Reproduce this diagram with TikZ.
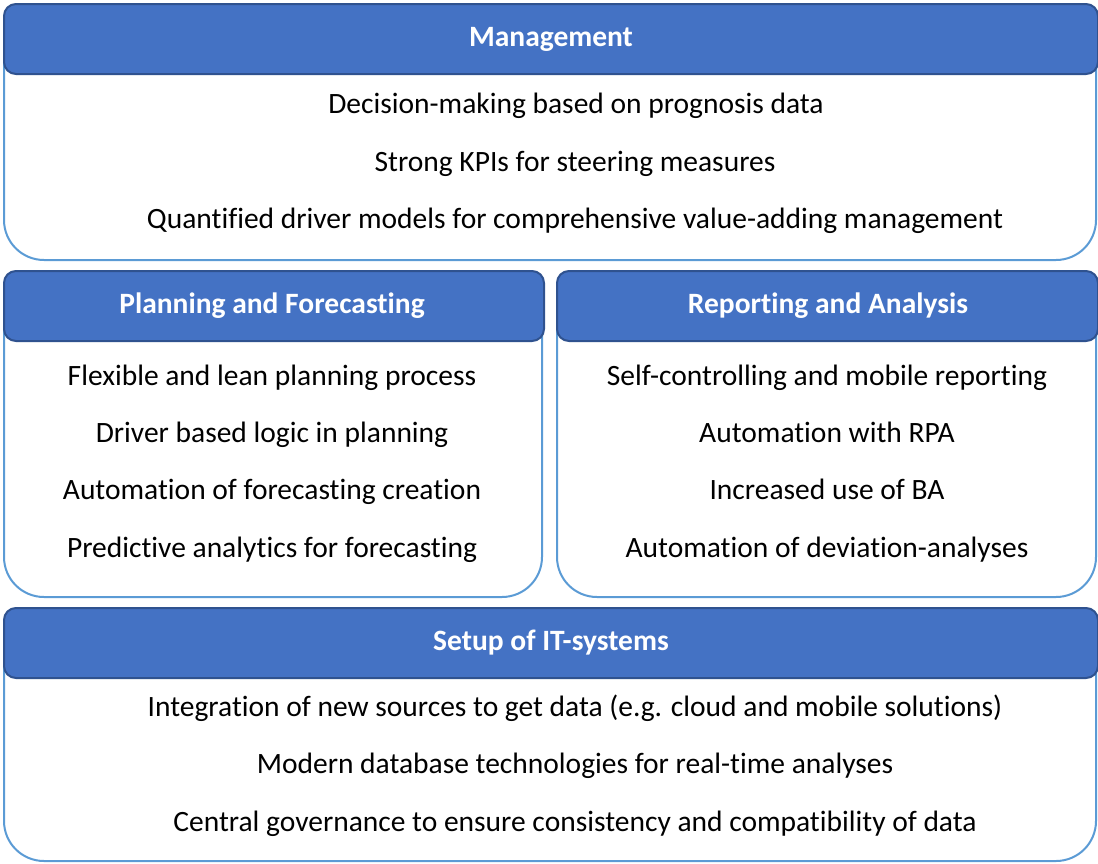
\documentclass[tikz,border=0pt]{standalone}
\usepackage{fontspec}
\setmainfont{Carlito}[Ligatures=NoCommon]
\definecolor{hdrfill}{HTML}{4472C4}
\definecolor{hdrline}{HTML}{2F528F}
\definecolor{bodyline}{HTML}{5B9BD5}
\begin{document}
\begin{tikzpicture}[x=1pt,y=-1pt,
  bodybox/.style={draw=bodyline,line width=2pt,rounded corners=40pt,fill=white},
  hdr/.style={draw=hdrline,line width=2pt,fill=hdrfill,rounded corners=12pt,
    anchor=north west,inner sep=0pt,minimum height=70pt},
  title/.style={anchor=base,inner sep=0pt,text=white,
    font=\fontsize{29.5}{34}\selectfont\bfseries},
  item/.style={anchor=base,inner sep=0pt,text=black,
    font=\fontsize{29.5}{34}\selectfont}]
\useasboundingbox (0,0) rectangle (1098,863);

% Management
\draw[bodybox] (4,40) -- (4,260) -- (1096,260) -- (1096,40);
\node[hdr,minimum width=1094pt] (mgmt) at (3,3) {};
\node[title] (mgmtT) at (551,46) {Management};
\node[item] (m1) at (576,113) {Decision-making based on prognosis data};
\node[item] (m2) at (575,171) {Strong KPIs for steering measures};
\node[item] (m3) at (575,228) {Quantified driver models for comprehensive value-adding management};

% Planning and Forecasting
\draw[bodybox] (4,305) -- (4,597) -- (542,597) -- (542,305);
\node[hdr,minimum width=540pt] (plan) at (3,270) {};
\node[title] (planT) at (272,313) {Planning and Forecasting};
\node[item] (p1) at (272,385) {Flexible and lean planning process};
\node[item] (p2) at (272,442) {Driver based logic in planning};
\node[item] (p3) at (272,499) {Automation of forecasting creation};
\node[item] (p4) at (272,557) {Predictive analytics for forecasting};

% Reporting and Analysis
\draw[bodybox] (557,305) -- (557,597) -- (1096,597) -- (1096,305);
\node[hdr,minimum width=541pt] (rep) at (556,270) {};
\node[title] (repT) at (828,313) {Reporting and Analysis};
\node[item] (r1) at (827,385) {Self-controlling and mobile reporting};
\node[item] (r2) at (827,442) {Automation with RPA};
\node[item] (r3) at (827,499) {Increased use of BA};
\node[item] (r4) at (827,557) {Automation of deviation-analyses};

% Setup of IT-systems
\draw[bodybox] (4,640) -- (4,861) -- (1096,861) -- (1096,640);
\node[hdr,minimum width=1094pt] (it) at (3,607) {};
\node[title] (itT) at (551,650) {Setup of IT-systems};
\node[item] (i1) at (575,716) {Integration of new sources to get data (e.g. cloud and mobile solutions)};
\node[item] (i2) at (575,773) {Modern database technologies for real-time analyses};
\node[item] (i3) at (575,831) {Central governance to ensure consistency and compatibility of data};
\end{tikzpicture}
\end{document}
